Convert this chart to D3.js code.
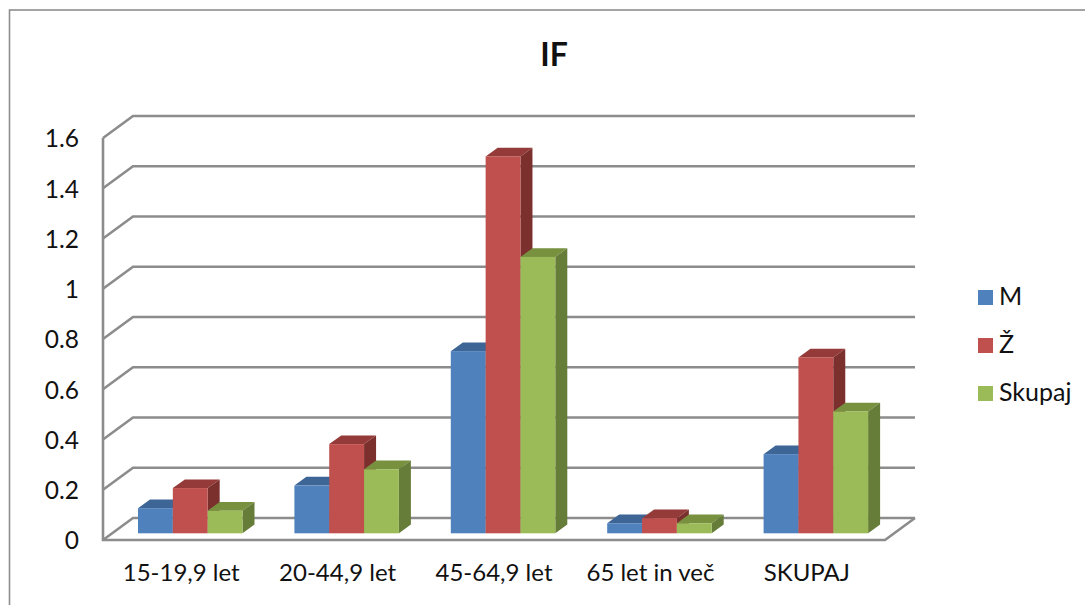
<!DOCTYPE html>
<html><head><meta charset="utf-8">
<script src="https://cdn.jsdelivr.net/npm/d3@7"></script>
<style>html,body{margin:0;padding:0;background:#fff}svg{display:block}text{font-family:Lato,"Open Sans",sans-serif;fill:#111}</style>
</head><body><div id="c"></div>
<script>
const title = "IF";
const categories = ["15-19,9 let","20-44,9 let","45-64,9 let","65 let in več","SKUPAJ"];
const seriesNames = ["M","Ž","Skupaj"];
const valuesM = [0.10,0.19,0.725,0.04,0.315];
const valuesZ = [0.18,0.355,1.50,0.06,0.70];
const valuesS = [0.09,0.255,1.10,0.04,0.485];
const yTicks = [0,0.2,0.4,0.6,0.8,1,1.2,1.4,1.6];
const fronts = ["#4f81bd","#c0504d","#9bbb59"];
const tops = ["#3d6696","#943b39","#77913f"];
const sides = ["#335580","#7b302e","#667c39"];
const allValues = [valuesM,valuesZ,valuesS];

const W=1085,H=605, depthX=30, depthY=22, barDX=12, barDY=8.7;
const svg=d3.select("#c").append("svg").attr("width",W).attr("height",H);
const GRID="#8c8c8c";
svg.append("rect").attr("x",9.5).attr("y",10).attr("width",W+20).attr("height",H+20).attr("fill","#fff").attr("stroke","#8e8e8e").attr("stroke-width",1.6);

const x0=d3.scaleBand().domain(categories).range([103,885]);
const x1=d3.scaleBand().domain(seriesNames).range([35,139.5]);
const y=d3.scaleLinear().domain([0,1.6]).range([540,138]);
const yBar=d3.scaleLinear().domain([0,1.6]).range([533.3,131.3]);

// gridlines on back wall and side wall
const grid=svg.append("g").attr("fill","none").attr("stroke",GRID).attr("stroke-width",2.6);
yTicks.forEach(t=>{
  const yf=y(t), yb=yf-depthY;
  grid.append("path").attr("d",`M${x0.range()[0]},${yf}L${x0.range()[0]+depthX},${yb}L${x0.range()[1]+depthX},${yb}`);
});
grid.append("path").attr("d",`M${x0.range()[0]},${y(1.6)}L${x0.range()[0]},${y(0)}L${x0.range()[1]},${y(0)}L${x0.range()[1]+depthX},${y(0)-depthY}`);

// bars
const bars=svg.append("g");
categories.forEach((c,i)=>{
  seriesNames.forEach((s,k)=>{
    const v=allValues[k][i], xl=x0(c)+x1(s), w=x1.bandwidth(), yt=yBar(v), yb=yBar(0);
    const g=bars.append("g").attr("stroke-linejoin","round");
    g.append("path").attr("fill",tops[k]).attr("d",`M${xl},${yt}L${xl+barDX},${yt-barDY}L${xl+w+barDX},${yt-barDY}L${xl+w},${yt}Z`);
    g.append("path").attr("fill",sides[k]).attr("d",`M${xl+w},${yt}L${xl+w+barDX},${yt-barDY}L${xl+w+barDX},${yb-barDY}L${xl+w},${yb}Z`);
    g.append("rect").attr("x",xl).attr("y",yt).attr("width",w).attr("height",yb-yt).attr("fill",fronts[k]);
  });
});

// axes (labels only)
const ya=svg.append("g").attr("transform","translate(79,0)")
  .call(d3.axisLeft(y).tickValues(yTicks).tickSize(0).tickPadding(0).tickFormat(d=>String(d)));
ya.select(".domain").remove();
ya.selectAll("text").attr("font-size",24.5).style("font-family","Lato").attr("dy","0.36em");
const xa=svg.append("g").attr("transform","translate(0,581)")
  .call(d3.axisBottom(x0).tickSize(0).tickPadding(0));
xa.select(".domain").remove();
xa.selectAll("text").attr("font-size",24).style("font-family","Lato").attr("dy",0).attr("y",0);

svg.append("text").attr("x",554).attr("y",66).attr("text-anchor","middle").attr("font-size",32).attr("font-weight",700).text(title);

// legend
const legendY=d3.scalePoint().domain(seriesNames).range([290,386]);
seriesNames.forEach((s,k)=>{
  svg.append("rect").attr("x",978).attr("y",legendY(s)).attr("width",15).attr("height",15).attr("fill",fronts[k]);
  svg.append("text").attr("x",999).attr("y",legendY(s)+15).attr("font-size",25).text(s);
});
</script></body></html>
